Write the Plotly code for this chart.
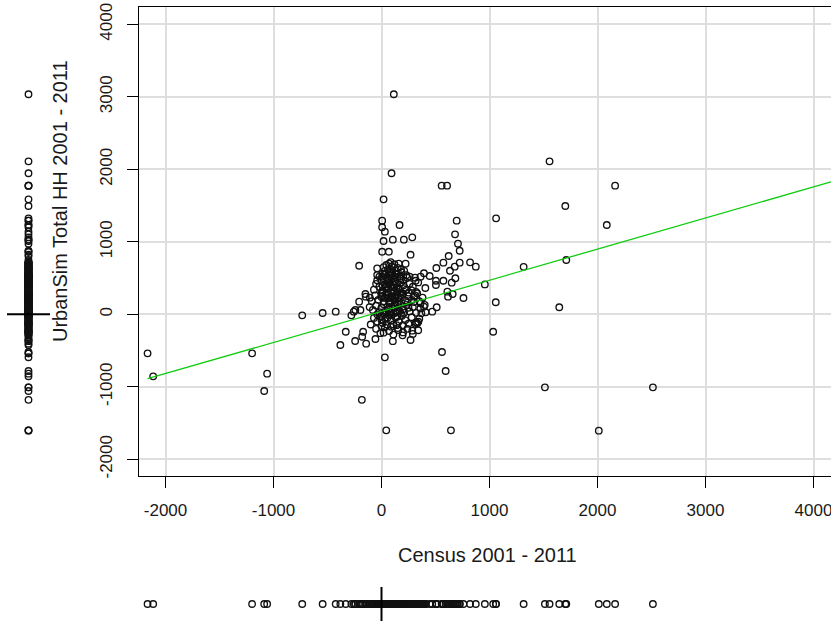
import plotly.graph_objects as go

# ---------------- data ----------------
# far outliers (left / bottom / right)
census_outer = [-2166, -2114, -1198, -1059, -1086, -734, -545, -424, -381, -182,
                44, 643, 31, 560, 594, 1034, 1513, 2513, 2012, 1646]
urbansim_outer = [-538, -855, -538, -819, -1058, -14, 18, 36, -423, -1180,
                  -1600, -1600, -593, -520, -782, -240, -1007, -1007, -1605, 97]

# upper outliers
census_upper = [114, 93, 557, 607, 19, 1556, 2163, 1702, 2086, 1061, 696, 6, 6,
                31, 167, 19, 105, 207, 285, 681, 708, 724, 6, 68, 269]
urbansim_upper = [3035, 1945, 1774, 1774, 1586, 2110, 1774, 1494, 1232, 1324, 1291,
                  1291, 1200, 1140, 1232, 1011, 1029, 1029, 1062, 1103, 974, 877,
                  863, 863, 822]

# mid / right scatter
census_mid = [622, 724, 573, 820, 873, -207, 223, 508, 678, 634, 1316, 1711, 393,
              446, 684, 650, 504, 504, 573, 406, 957, 659, 616, 610, 759, 1058]
urbansim_mid = [804, 712, 712, 717, 657, 670, 698, 639, 657, 601, 655, 749, 566,
                528, 497, 436, 463, 404, 463, 363, 412, 280, 243, 312, 225, 166]

# cluster periphery
census_edge = [-331, -244, -170, -179, -142, -56, 19, 105, 155, 195, 269, 285, 341,
               316, -207, -149, -108, -195, -279, -257, 310, 238, 316, 362, 393,
               470, 511, 409, 369, 331, -40, -40, -146, -242, 300, 362]
urbansim_edge = [-240, -368, -240, -309, -405, -340, -253, -370, -217, -290, -354,
                 -226, -102, -134, 174, 280, 229, 59, -14, 36, 505, 505, 463, 152,
                 105, 36, 97, 28, 14, -124, 634, 542, 243, 59, 243, 519]

# dense core (estimated, band by band)
census_core1 = [20, 45, 70, 95, 120, 150, 60, 100, 130, 30, 85, 160, 10, 180]
urbansim_core1 = [650, 680, 700, 660, 690, 640, 620, 610, 600, 600, 720, 700, 560, 620]

census_core2 = [-20, 15, 40, 65, 90, 110, 140, 170, 200, 230, 55, 125, 185, -40, 0,
                80, 210, 260]
urbansim_core2 = [520, 500, 560, 480, 540, 500, 560, 520, 470, 540, 460, 450, 580,
                  470, 460, 590, 600, 520]

census_core3 = [-50, -20, 10, 30, 50, 75, 95, 115, 135, 160, 185, 205, 230, 260, 290,
                320, 340, 0, 60, 150, 250, -70, 105, 175, 280, 45, 120, 215]
urbansim_core3 = [420, 380, 330, 410, 350, 440, 380, 320, 420, 360, 300, 400, 340,
                  420, 380, 310, 440, 300, 300, 310, 300, 340, 440, 440, 330, 380,
                  370, 360]

census_core4 = [-60, -30, 0, 20, 40, 60, 80, 100, 120, 140, 160, 180, 200, 220, 250,
                280, 310, 350, 380, -90, 10, 90, 170, 240, 300, 130, 70, 330]
urbansim_core4 = [260, 200, 240, 180, 280, 220, 160, 250, 200, 270, 170, 230, 280,
                  190, 250, 200, 260, 180, 230, 180, 290, 290, 290, 160, 170, 160,
                  180, 290]

census_core5 = [-80, -50, -20, 0, 20, 40, 60, 80, 100, 120, 140, 160, 180, 200, 230,
                260, 290, 320, 360, -110, 30, 110, 210, 150, 400, -40, 70, 250]
urbansim_core5 = [60, 120, 30, 90, 140, 50, 110, 20, 80, 140, 40, 100, 10, 70, 130,
                  40, 100, 20, 80, 100, 0, 10, 20, 140, 130, 0, 70, 90]

census_core6 = [-70, -40, -10, 10, 35, 60, 85, 110, 130, 160, 190, 220, 250, 280,
                320, 350, -100, 0, 140, 50, 200]
urbansim_core6 = [-50, -100, -30, -120, -60, -10, -90, -140, -40, -100, -20, -80,
                  -130, -40, -110, -60, -140, -80, -150, -140, -150]

census_core7 = [-50, -10, 30, 70, 110, 150, 200, 240, 290, 340, 90, 0]
urbansim_core7 = [-200, -260, -180, -230, -280, -190, -250, -200, -270, -220, -170, -160]

census_core8 = [5, 28, 52, 77, 98, 127, 148, 173, 8, 33, 47, 82, 104, 122, 153, 178,
                3, 24, 57, 73, 96, 131, 146, 168, 12, 38, 63, 88, 114, 139]
urbansim_core8 = [520, 545, 505, 535, 565, 515, 548, 498, 255, 228, 268, 236, 218, 252,
                  226, 262, -22, 12, -44, 31, -9, 22, -33, 42, 395, 372, 410, 388,
                  402, 366]

# fitted regression line
fit_intercept = 41
fit_slope = 0.429

x_ticks = [-2000, -1000, 0, 1000, 2000, 3000, 4000]
y_ticks = [-2000, -1000, 0, 1000, 2000, 3000, 4000]

census = (census_outer + census_upper + census_mid + census_edge + census_core1 +
          census_core2 + census_core3 + census_core4 + census_core5 +
          census_core6 + census_core7 + census_core8)
urbansim = (urbansim_outer + urbansim_upper + urbansim_mid + urbansim_edge +
            urbansim_core1 + urbansim_core2 + urbansim_core3 + urbansim_core4 +
            urbansim_core5 + urbansim_core6 + urbansim_core7 + urbansim_core8)

# ---------------- layout geometry ----------------
W, H = 831, 621
X_RANGE = [-2250, 4162]
Y_RANGE = [-2230, 4234]
plot_left, plot_top, plot_bottom = 138.5, 7.3, 476.0

FONT = "Liberation Sans, Arial, sans-serif"
TXT = "#1a1a1a"

marker = dict(symbol="circle-open", size=6.5, color="#111111",
              line=dict(width=1.35, color="#111111"))

fig = go.Figure()

# main scatter
fig.add_trace(go.Scatter(x=census, y=urbansim, mode="markers", marker=marker,
                         xaxis="x", yaxis="y", showlegend=False, cliponaxis=True))

# regression line
x0 = min(census)
x1 = X_RANGE[1]
fig.add_trace(go.Scatter(x=[x0, x1],
                         y=[fit_intercept + fit_slope * x0, fit_intercept + fit_slope * x1],
                         mode="lines", line=dict(color="#10cc10", width=1.3),
                         xaxis="x", yaxis="y", showlegend=False))

# bottom marginal strip
fig.add_trace(go.Scatter(x=census, y=[0] * len(census), mode="markers", marker=marker,
                         xaxis="x2", yaxis="y2", showlegend=False, cliponaxis=False))
fig.add_trace(go.Scatter(x=[0, 0], y=[-1, 1], mode="lines",
                         line=dict(color="#000000", width=2),
                         xaxis="x2", yaxis="y2", showlegend=False))

# left marginal strip
fig.add_trace(go.Scatter(x=[0] * len(urbansim), y=urbansim, mode="markers", marker=marker,
                         xaxis="x3", yaxis="y3", showlegend=False, cliponaxis=False))
fig.add_trace(go.Scatter(x=[-1, 1], y=[0, 0], mode="lines",
                         line=dict(color="#000000", width=2),
                         xaxis="x3", yaxis="y3", showlegend=False))

xdom = [plot_left / W, 1.0]
ydom = [1 - plot_bottom / H, 1 - plot_top / H]

common_axis = dict(showline=True, linecolor="#000000", linewidth=1,
                   ticks="outside", ticklen=11, tickcolor="#000000", tickwidth=1,
                   showgrid=True, gridcolor="#dedede", gridwidth=1.6,
                   zeroline=False, automargin=False, ticklabeloverflow="allow",
                   tickfont=dict(family=FONT, size=17, color=TXT))

hidden = dict(visible=False, automargin=False, showgrid=False, zeroline=False)

fig.update_layout(
    width=W, height=H,
    margin=dict(l=0, r=0, t=0, b=0, pad=0),
    paper_bgcolor="white", plot_bgcolor="white",
    showlegend=False,
    xaxis=dict(domain=xdom, range=X_RANGE, tickvals=x_ticks,
               ticktext=[str(v) for v in x_ticks], mirror=True, anchor="y",
               ticklabelstandoff=8, **common_axis),
    yaxis=dict(domain=ydom, range=Y_RANGE, tickvals=y_ticks,
               ticktext=[str(v) for v in y_ticks], tickangle=-90, mirror=False,
               anchor="x", ticklabelstandoff=8, **common_axis),
    xaxis2=dict(domain=xdom, range=X_RANGE, anchor="y2", **hidden),
    yaxis2=dict(domain=[0, 34 / H], range=[-1, 1], anchor="x2", **hidden),
    xaxis3=dict(domain=[7 / W, 50 / W], range=[-1, 1], anchor="y3", **hidden),
    yaxis3=dict(domain=ydom, range=Y_RANGE, anchor="x3", **hidden),
    annotations=[
        dict(text="Census 2001 - 2011", x=488 / W, y=1 - 555 / H, xref="paper",
             yref="paper", xanchor="center", yanchor="middle", showarrow=False,
             font=dict(family=FONT, size=20, color=TXT)),
        dict(text="UrbanSim Total HH 2001 - 2011", x=60 / W, y=1 - 201 / H,
             xref="paper", yref="paper", xanchor="center", yanchor="middle",
             textangle=-90, showarrow=False,
             font=dict(family=FONT, size=20, color=TXT)),
    ],
)

# remove the browser's default 8px page margin so the 831x621 figure fills the window
fig.write_html("out.html",
               config={"displayModeBar": False},
               post_script="document.body.style.margin='0px';"
                           "document.body.style.overflow='hidden';")
